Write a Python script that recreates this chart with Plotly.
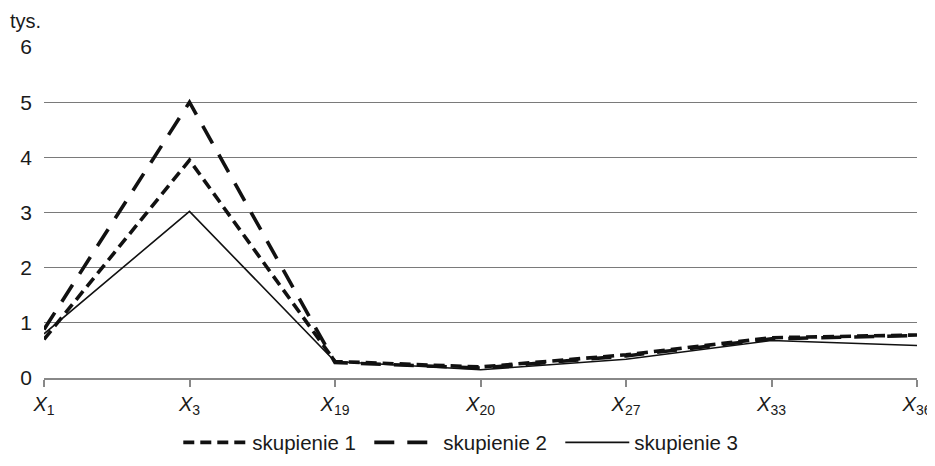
import plotly.graph_objects as go

categories = ["X1", "X3", "X19", "X20", "X27", "X33", "X36"]
tick_labels = ["<i>X</i><sub>1</sub>", "<i>X</i><sub>3</sub>", "<i>X</i><sub>19</sub>",
               "<i>X</i><sub>20</sub>", "<i>X</i><sub>27</sub>", "<i>X</i><sub>33</sub>",
               "<i>X</i><sub>36</sub>"]
skupienie_1 = [0.70, 3.95, 0.30, 0.20, 0.42, 0.73, 0.78]
skupienie_2 = [0.88, 5.00, 0.28, 0.18, 0.40, 0.71, 0.77]
skupienie_3 = [0.80, 3.02, 0.30, 0.15, 0.34, 0.68, 0.59]

xs = list(range(len(categories)))

fig = go.Figure()
fig.add_trace(go.Scatter(x=xs, y=skupienie_1, mode="lines", name="skupienie 1",
                         line=dict(color="#111111", width=3.6, dash="11px,6px")))
fig.add_trace(go.Scatter(x=xs, y=skupienie_2, mode="lines", name="skupienie 2",
                         line=dict(color="#111111", width=3.6, dash="20px,13px")))
fig.add_trace(go.Scatter(x=xs, y=skupienie_3, mode="lines", name="skupienie 3",
                         line=dict(color="#111111", width=1.6)))

fig.update_layout(
    width=935, height=466,
    margin=dict(l=36, r=26, t=39, b=90),
    paper_bgcolor="white", plot_bgcolor="white",
    font=dict(family="Liberation Sans, Arial, sans-serif", color="#1a1a1a", size=19),
    showlegend=True,
    legend=dict(orientation="h", x=0.482, xanchor="center", y=-0.195, yanchor="middle",
                font=dict(size=20.5), itemwidth=64, entrywidth=112,
                traceorder="normal"),
    xaxis=dict(range=[0, 6], tickmode="array", tickvals=xs, ticktext=tick_labels,
               showgrid=False, zeroline=False, showline=True, linecolor="#888888",
               linewidth=1.5, ticks="outside", ticklen=7, tickcolor="#888888",
               tickwidth=1.5, tickfont=dict(size=20), automargin=False),
    yaxis=dict(range=[0, 6], tickvals=[0, 1, 2, 3, 4, 5, 6], showgrid=True,
               gridcolor="#7a7a7a", gridwidth=1.2, zeroline=False, showline=False,
               ticks="", tickfont=dict(size=21), automargin=False,
               ticklabelstandoff=11),
    annotations=[dict(text="tys.", xref="paper", yref="paper", x=-0.041, y=1.08,
                      xanchor="left", yanchor="middle", showarrow=False,
                      font=dict(size=20))],
)

fig.write_html("out.html")
